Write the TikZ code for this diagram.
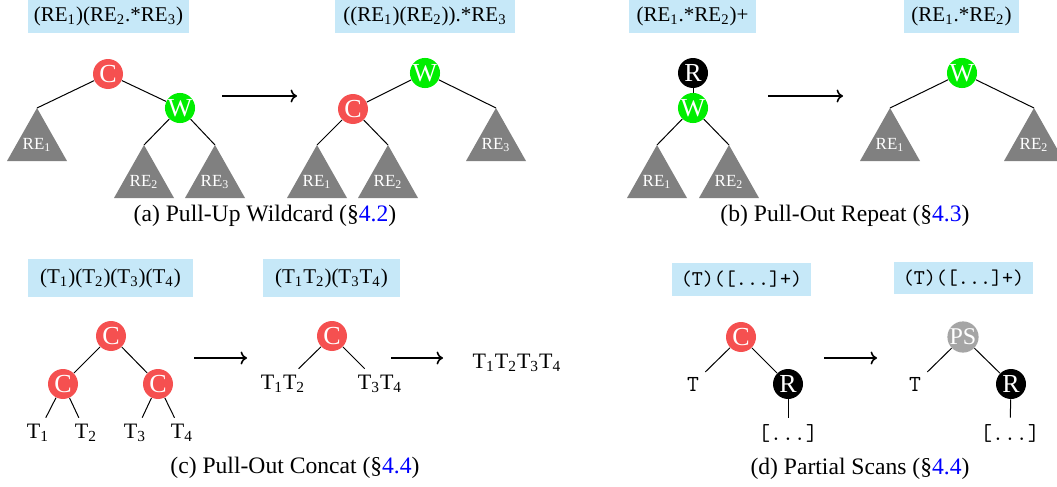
\documentclass[tikz,border=0pt]{standalone}
\usepackage{fontspec}
\setmainfont{Liberation Serif}
\usetikzlibrary{calc,arrows.meta}
\definecolor{boxblue}{RGB}{198,232,248}
\definecolor{nodered}{RGB}{245,80,80}
\definecolor{nodegreen}{RGB}{0,238,0}
\definecolor{trigray}{RGB}{128,128,128}
\definecolor{psgray}{RGB}{165,165,165}
\definecolor{linkblue}{RGB}{0,0,255}
\newcommand{\sbs}[1]{\textsubscript{#1}}
\newcommand{\retri}[4]{%
  \coordinate (#1) at (#2,#3);
  \fill[tri] (#1) -- ++(-30,53) -- ++(60,0) -- cycle;
  \node[trilbl] (#1l) at ($(#1)+(0,37)$) {#4};}
\begin{document}
\begin{tikzpicture}[x=0.5pt,y=-0.5pt,
  expr/.style={fill=boxblue, inner sep=0pt, font=\fontsize{10.5}{12}\selectfont},
  cnode/.style={circle, inner sep=0pt, minimum size=15pt, text=white, font=\fontsize{13}{13}\selectfont},
  cnC/.style={cnode, fill=nodered},
  cnW/.style={cnode, fill=nodegreen},
  cnR/.style={cnode, fill=black},
  cnPS/.style={cnode, fill=psgray, font=\fontsize{12}{12}\selectfont},
  edge/.style={draw, line width=0.5pt},
  xform/.style={-{To[length=3.2pt,width=6.5pt]}, line width=0.8pt},
  tri/.style={fill=trigray},
  trilbl/.style={text=white, font=\fontsize{8.5}{8.5}\selectfont, inner sep=0pt},
  leaf/.style={font=\fontsize{11}{11}\selectfont, inner sep=3pt},
  ttleaf/.style={font=\ttfamily\fontsize{11.5}{11.5}\selectfont, inner sep=3pt},
  capt/.style={font=\fontsize{11.8}{12}\selectfont, inner sep=0pt}]
\useasboundingbox (0,0) rectangle (1057,487);

% ---------- (a) ----------
\node[expr, minimum width=80.5pt, minimum height=16.5pt] (ea1) at (108.5,16.5) {(RE\sbs{1})(RE\sbs{2}.*RE\sbs{3})};
\node[expr, minimum width=90pt, minimum height=16.5pt] (ea2) at (425,16.5) {((RE\sbs{1})(RE\sbs{2})).*RE\sbs{3}};
\retri{a1r1}{37}{108}{RE\sbs{1}}
\retri{a1r2}{144}{145}{RE\sbs{2}}
\retri{a1r3}{215}{145}{RE\sbs{3}}
\node[cnC] (a1c) at (108,74) {C};
\node[cnW] (a1w) at (180,108) {W};
\draw[edge] (a1c) -- (a1r1);
\draw[edge] (a1c) -- (a1w);
\draw[edge] (a1w) -- (a1r2);
\draw[edge] (a1w) -- (a1r3);
\coordinate (aa1) at (222,96);
\coordinate (aa2) at (297,96);
\draw[xform] (aa1) -- (aa2);
\retri{a2r1}{317}{145}{RE\sbs{1}}
\retri{a2r2}{388}{145}{RE\sbs{2}}
\retri{a2r3}{496}{108}{RE\sbs{3}}
\node[cnW] (a2w) at (425,73) {W};
\node[cnC] (a2c) at (353,109) {C};
\draw[edge] (a2w) -- (a2c);
\draw[edge] (a2w) -- (a2r3);
\draw[edge] (a2c) -- (a2r1);
\draw[edge] (a2c) -- (a2r2);
\node[capt] (capa) at (265,216) {(a) Pull-Up Wildcard (§\textcolor{linkblue}{4.2})};

% ---------- (b) ----------
\node[expr, minimum width=63.5pt, minimum height=16.5pt] (eb1) at (692.5,16.5) {(RE\sbs{1}.*RE\sbs{2})+};
\node[expr, minimum width=57.5pt, minimum height=16.5pt] (eb2) at (961.5,16.5) {(RE\sbs{1}.*RE\sbs{2})};
\retri{b1r1}{657}{145}{RE\sbs{1}}
\retri{b1r2}{729}{145}{RE\sbs{2}}
\node[cnR] (b1r) at (693,73) {R};
\node[cnW] (b1w) at (693,108) {W};
\draw[edge] (b1r) -- (b1w);
\draw[edge] (b1w) -- (b1r1);
\draw[edge] (b1w) -- (b1r2);
\coordinate (ba1) at (768,96);
\coordinate (ba2) at (843,96);
\draw[xform] (ba1) -- (ba2);
\retri{b2r1}{890}{108}{RE\sbs{1}}
\retri{b2r2}{1034}{108}{RE\sbs{2}}
\node[cnW] (b2w) at (962,73) {W};
\draw[edge] (b2w) -- (b2r1);
\draw[edge] (b2w) -- (b2r2);
\node[capt] (capb) at (845,216) {(b) Pull-Out Repeat (§\textcolor{linkblue}{4.3})};

% ---------- (c) ----------
\node[expr, minimum width=82.5pt, minimum height=19pt] (ec1) at (110.5,278) {(T\sbs{1})(T\sbs{2})(T\sbs{3})(T\sbs{4})};
\node[expr, minimum width=68.5pt, minimum height=19pt] (ec2) at (331.5,278) {(T\sbs{1}T\sbs{2})(T\sbs{3}T\sbs{4})};
\node[cnC] (c1c) at (111,336) {C};
\node[cnC] (c1l) at (63,384) {C};
\node[cnC] (c1r) at (158,384) {C};
\node[leaf] (c1t1) at (38,433) {T\sbs{1}};
\node[leaf] (c1t2) at (86,433) {T\sbs{2}};
\node[leaf] (c1t3) at (135,433) {T\sbs{3}};
\node[leaf] (c1t4) at (182,433) {T\sbs{4}};
\draw[edge] (c1c) -- (c1l);
\draw[edge] (c1c) -- (c1r);
\draw[edge] (c1l) -- (c1t1);
\draw[edge] (c1l) -- (c1t2);
\draw[edge] (c1r) -- (c1t3);
\draw[edge] (c1r) -- (c1t4);
\coordinate (ca1) at (194,358);
\coordinate (ca2) at (247,358);
\draw[xform] (ca1) -- (ca2);
\node[cnC] (c2c) at (332,336) {C};
\node[leaf] (c2l) at (283,384) {T\sbs{1}T\sbs{2}};
\node[leaf] (c2r) at (380,384) {T\sbs{3}T\sbs{4}};
\draw[edge] (c2c) -- (c2l);
\draw[edge] (c2c) -- (c2r);
\coordinate (cb1) at (391,358);
\coordinate (cb2) at (443,358);
\draw[xform] (cb1) -- (cb2);
\node[leaf] (c3) at (517,363) {T\sbs{1}T\sbs{2}T\sbs{3}T\sbs{4}};
\node[capt] (capc) at (295,468) {(c) Pull-Out Concat (§\textcolor{linkblue}{4.4})};

% ---------- (d) ----------
\node[expr, minimum width=69.5pt, minimum height=16.5pt, font=\ttfamily\fontsize{10.5}{12}\selectfont] (ed1) at (741.5,279.5) {(T)([...]+)};
\node[expr, minimum width=69.5pt, minimum height=16pt, font=\ttfamily\fontsize{10.5}{12}\selectfont] (ed2) at (963.5,278) {(T)([...]+)};
\node[cnC] (d1c) at (741,337) {C};
\node[cnR] (d1r) at (788,384) {R};
\node[ttleaf] (d1t) at (693,384) {T};
\node[ttleaf] (d1s) at (788,433) {[...]};
\draw[edge] (d1c) -- (d1t);
\draw[edge] (d1c) -- (d1r);
\draw[edge] (d1r) -- (d1s);
\coordinate (da1) at (824,358);
\coordinate (da2) at (877,358);
\draw[xform] (da1) -- (da2);
\node[cnPS] (d2p) at (963,337) {PS};
\node[cnR] (d2r) at (1011,384) {R};
\node[ttleaf] (d2t) at (915,384) {T};
\node[ttleaf] (d2s) at (1010,433) {[...]};
\draw[edge] (d2p) -- (d2t);
\draw[edge] (d2p) -- (d2r);
\draw[edge] (d2r) -- (d2s);
\node[capt] (capd) at (860,469) {(d) Partial Scans (§\textcolor{linkblue}{4.4})};
\end{tikzpicture}
\end{document}
